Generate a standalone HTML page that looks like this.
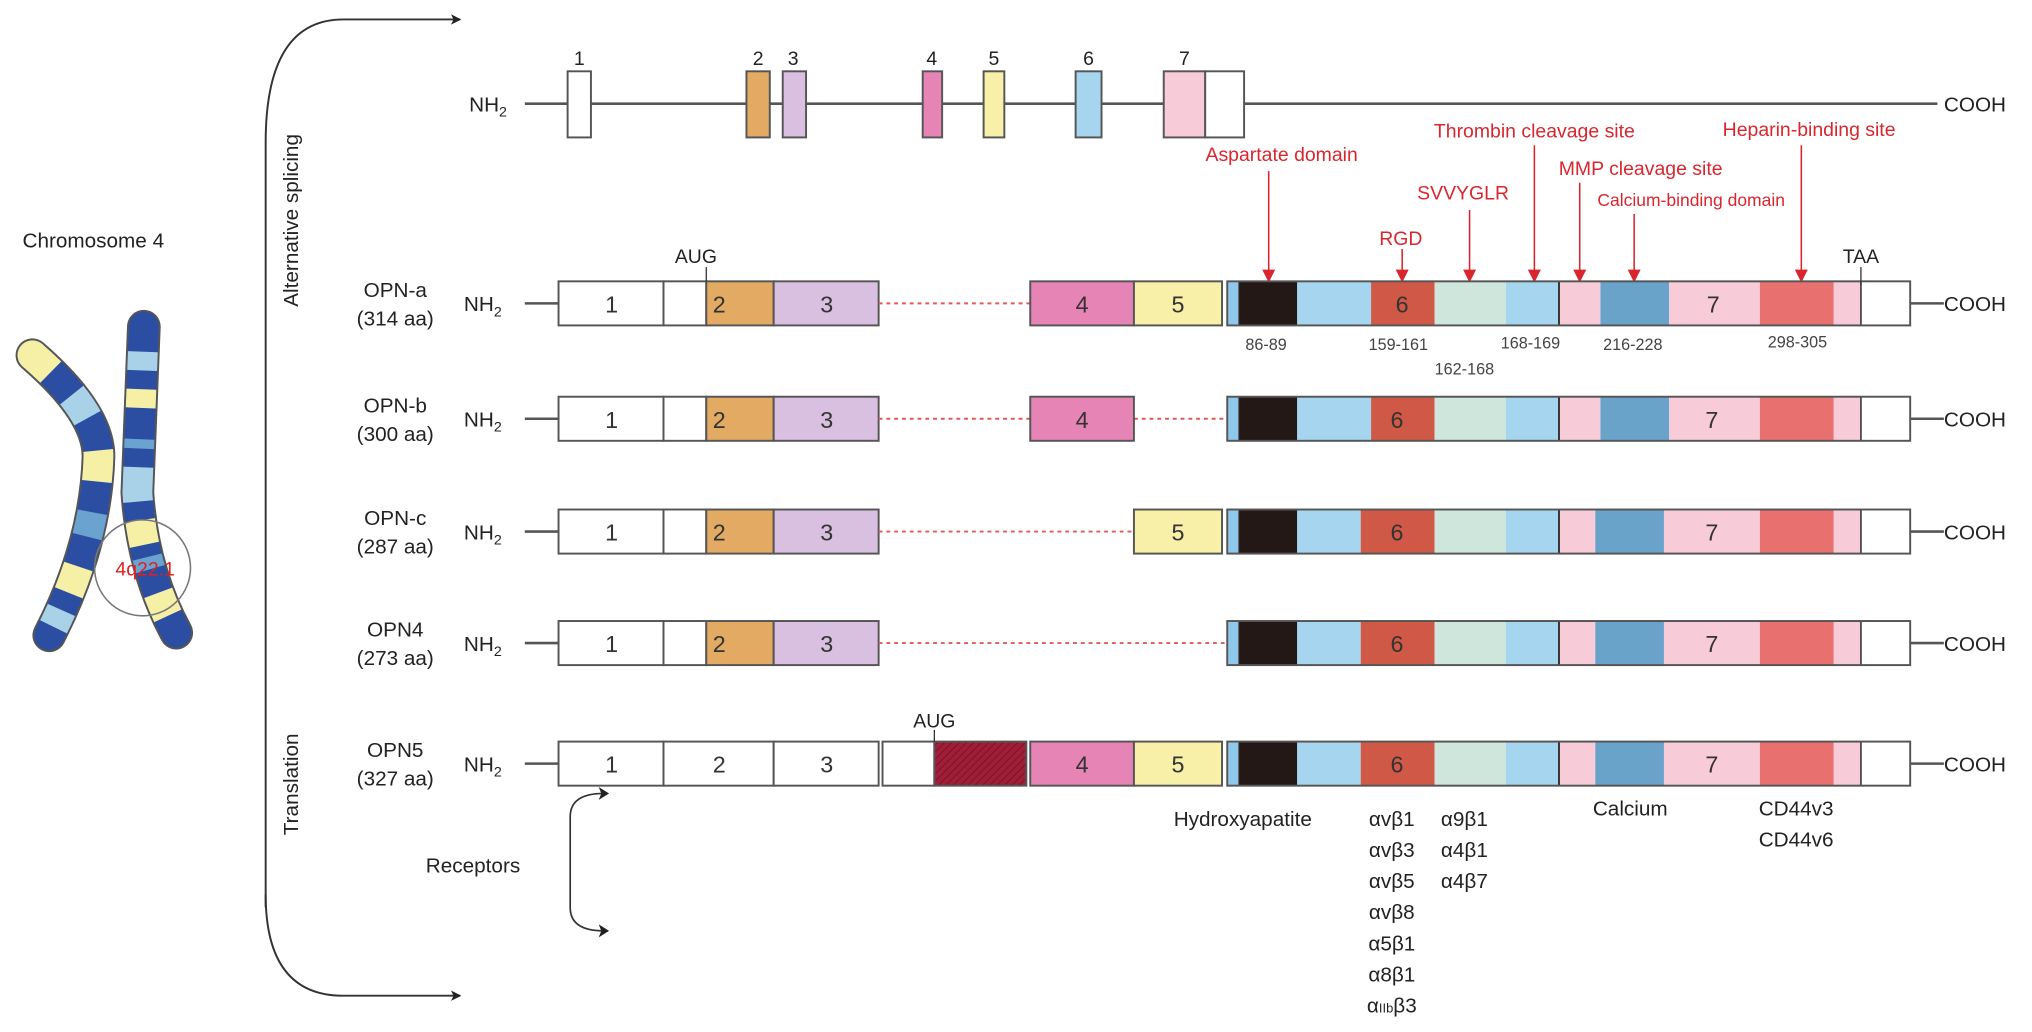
<!DOCTYPE html>
<html><head><meta charset="utf-8"><style>
html,body{margin:0;padding:0;background:#fff;}
svg{display:block;}
text{font-family:"Liberation Sans",sans-serif;}
</style></head><body>
<svg width="2032" height="1032" viewBox="0 0 1568 796" preserveAspectRatio="none" xmlns="http://www.w3.org/2000/svg">
<defs>
<pattern id="hatch" width="4" height="4" patternUnits="userSpaceOnUse" patternTransform="rotate(45)">
<rect width="4" height="4" fill="#a01e38"/><line x1="0" y1="0" x2="0" y2="4" stroke="#7a1228" stroke-width="1.5"/>
</pattern>
<marker id="ah" markerWidth="8" markerHeight="8" refX="7" refY="4" orient="auto" markerUnits="userSpaceOnUse"><path d="M0,0 L8,4 L0,8 L2,4 z" fill="#222"/></marker>
<marker id="rh" markerWidth="10" markerHeight="10" refX="5" refY="9" orient="0" markerUnits="userSpaceOnUse"><path d="M0,0 L10,0 L5,10 z" fill="#d9262e"/></marker>
<g id="mainA">
<rect x="947" y="0" width="9" height="34" fill="#8fc8ea"/>
<rect x="956" y="0" width="45" height="34" fill="#231815"/>
<rect x="1001" y="0" width="57" height="34" fill="#a6d6ef"/>
<rect x="1058" y="0" width="49" height="34" fill="#cf5847"/>
<rect x="1107" y="0" width="55" height="34" fill="#cfe6dc"/>
<rect x="1162" y="0" width="41" height="34" fill="#a6d6ef"/>
<rect x="1203" y="0" width="32" height="34" fill="#f7cbd8"/>
<rect x="1235" y="0" width="53" height="34" fill="#6aa3c9"/>
<rect x="1288" y="0" width="70" height="34" fill="#f7cbd8"/>
<rect x="1358" y="0" width="57" height="34" fill="#e8706e"/>
<rect x="1415" y="0" width="21" height="34" fill="#f7cbd8"/>
<rect x="1436" y="0" width="38" height="34" fill="#fff"/>
<line x1="1203" y1="0" x2="1203" y2="34" stroke="#333" stroke-width="1.5"/>
<line x1="1436" y1="0" x2="1436" y2="34" stroke="#333" stroke-width="1.2"/>
<line x1="956" y1="0" x2="956" y2="34" stroke="#333" stroke-width="0.8"/>
<rect x="947" y="0" width="527" height="34" fill="none" stroke="#555" stroke-width="1.5"/>
<line x1="1474" y1="17" x2="1500" y2="17" stroke="#555" stroke-width="2"/>
</g>
<g id="mainB">
<rect x="947" y="0" width="9" height="34" fill="#8fc8ea"/>
<rect x="956" y="0" width="45" height="34" fill="#231815"/>
<rect x="1001" y="0" width="49" height="34" fill="#a6d6ef"/>
<rect x="1050" y="0" width="57" height="34" fill="#cf5847"/>
<rect x="1107" y="0" width="55" height="34" fill="#cfe6dc"/>
<rect x="1162" y="0" width="41" height="34" fill="#a6d6ef"/>
<rect x="1203" y="0" width="28" height="34" fill="#f7cbd8"/>
<rect x="1231" y="0" width="53" height="34" fill="#6aa3c9"/>
<rect x="1284" y="0" width="74" height="34" fill="#f7cbd8"/>
<rect x="1358" y="0" width="57" height="34" fill="#e8706e"/>
<rect x="1415" y="0" width="21" height="34" fill="#f7cbd8"/>
<rect x="1436" y="0" width="38" height="34" fill="#fff"/>
<line x1="1203" y1="0" x2="1203" y2="34" stroke="#333" stroke-width="1.5"/>
<line x1="1436" y1="0" x2="1436" y2="34" stroke="#333" stroke-width="1.2"/>
<line x1="956" y1="0" x2="956" y2="34" stroke="#333" stroke-width="0.8"/>
<rect x="947" y="0" width="527" height="34" fill="none" stroke="#555" stroke-width="1.5"/>
<line x1="1474" y1="17" x2="1500" y2="17" stroke="#555" stroke-width="2"/>
</g>
<g id="left">
<line x1="405" y1="17" x2="431" y2="17" stroke="#555" stroke-width="2"/>
<rect x="431" y="0" width="81" height="34" fill="#fff" stroke="#555" stroke-width="1.5"/>
<rect x="512" y="0" width="33" height="34" fill="#fff" stroke="#555" stroke-width="1.5"/>
<rect x="545" y="0" width="52" height="34" fill="#e2aa62" stroke="#555" stroke-width="1.5"/>
<rect x="597" y="0" width="81" height="34" fill="#d9bfe0" stroke="#555" stroke-width="1.5"/>
</g>
</defs>

<!-- big bracket arrows -->
<path d="M205,700 L205,110 Q205,15 265,15 L355,15" fill="none" stroke="#333" stroke-width="1.5" marker-end="url(#ah)"/>
<path d="M205,690 Q205,768 265,768 L355,768" fill="none" stroke="#333" stroke-width="1.5" marker-end="url(#ah)"/>
<text transform="translate(230,170) rotate(-90)" text-anchor="middle" font-size="16" fill="#222">Alternative splicing</text>
<text transform="translate(230,605) rotate(-90)" text-anchor="middle" font-size="16" fill="#222">Translation</text>

<!-- chromosome -->
<text x="72" y="191" text-anchor="middle" font-size="16" fill="#222">Chromosome 4</text>
<g fill="none">
<path d="M25,274 Q76,318 76,352 Q74,420 38,490" stroke="#555" stroke-width="26" stroke-linecap="round"/>
<path d="M111,252 L106,380 Q110,440 136,488" stroke="#555" stroke-width="26" stroke-linecap="round"/>
<path d="M25,274 Q76,318 76,352 Q74,420 38,490" stroke="#2b4ea3" stroke-width="23" stroke-linecap="round"/>
<g stroke-width="23" stroke-linecap="butt">
<path d="M25,274 Q76,318 76,352 Q74,420 38,490" pathLength="100" stroke="#f6efa6" stroke-dasharray="0 0 8 200" />
<path d="M25,274 Q76,318 76,352 Q74,420 38,490" pathLength="100" stroke="#f6efa6" stroke-dasharray="0 0.1 0.1 200" stroke-linecap="round"/>
<path d="M25,274 Q76,318 76,352 Q74,420 38,490" pathLength="100" stroke="#a9d2e8" stroke-dasharray="9 200" stroke-dashoffset="-18"/>
<path d="M25,274 Q76,318 76,352 Q74,420 38,490" pathLength="100" stroke="#f6efa6" stroke-dasharray="10 200" stroke-dashoffset="-38"/>
<path d="M25,274 Q76,318 76,352 Q74,420 38,490" pathLength="100" stroke="#6aa3cf" stroke-dasharray="8 200" stroke-dashoffset="-58"/>
<path d="M25,274 Q76,318 76,352 Q74,420 38,490" pathLength="100" stroke="#f6efa6" stroke-dasharray="9 200" stroke-dashoffset="-76"/>
<path d="M25,274 Q76,318 76,352 Q74,420 38,490" pathLength="100" stroke="#a9d2e8" stroke-dasharray="6 200" stroke-dashoffset="-91"/>
</g>
<path d="M111,252 L106,380 Q110,440 136,488" stroke="#2b4ea3" stroke-width="23" stroke-linecap="round"/>
<g stroke-width="23" stroke-linecap="butt">
<path d="M111,252 L106,380 Q110,440 136,488" pathLength="100" stroke="#a9d2e8" stroke-dasharray="6 200" stroke-dashoffset="-8"/>
<path d="M111,252 L106,380 Q110,440 136,488" pathLength="100" stroke="#f6efa6" stroke-dasharray="6 200" stroke-dashoffset="-20"/>
<path d="M111,252 L106,380 Q110,440 136,488" pathLength="100" stroke="#6aa3cf" stroke-dasharray="3 200" stroke-dashoffset="-36"/>
<path d="M111,252 L106,380 Q110,440 136,488" pathLength="100" stroke="#a9d2e8" stroke-dasharray="11 200" stroke-dashoffset="-45"/>
<path d="M111,252 L106,380 Q110,440 136,488" pathLength="100" stroke="#f6efa6" stroke-dasharray="8 200" stroke-dashoffset="-62"/>
<path d="M111,252 L106,380 Q110,440 136,488" pathLength="100" stroke="#6aa3cf" stroke-dasharray="4 200" stroke-dashoffset="-74"/>
<path d="M111,252 L106,380 Q110,440 136,488" pathLength="100" stroke="#f6efa6" stroke-dasharray="8 200" stroke-dashoffset="-86"/>
</g>
<circle cx="110" cy="438" r="37" stroke="#777" stroke-width="1.2"/>
</g>
<text x="112" y="444" text-anchor="middle" font-size="15" fill="#e02020">4q22.1</text>

<!-- top gene -->
<line x1="405" y1="80" x2="1495" y2="80" stroke="#555" stroke-width="2"/>
<text x="362" y="86" font-size="16" fill="#222">NH<tspan font-size="11" dy="4">2</tspan></text>
<text x="1500" y="86" font-size="16" fill="#222">COOH</text>
<g stroke="#555" stroke-width="1.5">
<rect x="438" y="55" width="18" height="51" fill="#fff"/>
<rect x="576" y="55" width="18" height="51" fill="#e2aa62"/>
<rect x="604" y="55" width="18" height="51" fill="#d9bfe0"/>
<rect x="712" y="55" width="15" height="51" fill="#e684b6"/>
<rect x="759" y="55" width="16" height="51" fill="#f8f0a8"/>
<rect x="830" y="55" width="20" height="51" fill="#a6d6ef"/>
<rect x="898" y="55" width="32" height="51" fill="#f7cbd8"/>
<rect x="930" y="55" width="30" height="51" fill="#fff"/>
</g>
<g font-size="15" fill="#222" text-anchor="middle">
<text x="447" y="50">1</text><text x="585" y="50">2</text><text x="612" y="50">3</text>
<text x="719" y="50">4</text><text x="767" y="50">5</text><text x="840" y="50">6</text><text x="914" y="50">7</text>
</g>

<!-- red annotations -->
<g stroke="#d9262e" stroke-width="1.2" marker-end="url(#rh)">
<line x1="979" y1="132" x2="979" y2="217"/>
<line x1="1082" y1="192" x2="1082" y2="217"/>
<line x1="1134" y1="162" x2="1134" y2="217"/>
<line x1="1184" y1="112" x2="1184" y2="217"/>
<line x1="1219" y1="141" x2="1219" y2="217"/>
<line x1="1261" y1="165" x2="1261" y2="217"/>
<line x1="1390" y1="112" x2="1390" y2="217"/>
</g>
<g fill="#d9262e" text-anchor="middle" font-size="15">
<text x="989" y="124">Aspartate domain</text>
<text x="1081" y="189">RGD</text>
<text x="1129" y="154">SVVYGLR</text>
<text x="1184" y="106">Thrombin cleavage site</text>
<text x="1266" y="135">MMP cleavage site</text>
<text x="1305" y="159" font-size="13.5">Calcium-binding domain</text>
<text x="1396" y="105">Heparin-binding site</text>
</g>

<!-- rows -->
<g font-size="16" fill="#222">
<text x="305" y="229" text-anchor="middle">OPN-a</text><text x="305" y="251" text-anchor="middle">(314 aa)</text>
<text x="305" y="318" text-anchor="middle">OPN-b</text><text x="305" y="340" text-anchor="middle">(300 aa)</text>
<text x="305" y="405" text-anchor="middle">OPN-c</text><text x="305" y="427" text-anchor="middle">(287 aa)</text>
<text x="305" y="491" text-anchor="middle">OPN4</text><text x="305" y="513" text-anchor="middle">(273 aa)</text>
<text x="305" y="584" text-anchor="middle">OPN5</text><text x="305" y="606" text-anchor="middle">(327 aa)</text>
</g>
<g font-size="16" fill="#222">
<text x="358" y="240">NH<tspan font-size="11" dy="4">2</tspan></text>
<text x="358" y="329">NH<tspan font-size="11" dy="4">2</tspan></text>
<text x="358" y="416">NH<tspan font-size="11" dy="4">2</tspan></text>
<text x="358" y="502">NH<tspan font-size="11" dy="4">2</tspan></text>
<text x="358" y="595">NH<tspan font-size="11" dy="4">2</tspan></text>
<text x="1500" y="240">COOH</text><text x="1500" y="329">COOH</text><text x="1500" y="416">COOH</text>
<text x="1500" y="502">COOH</text><text x="1500" y="595">COOH</text>
</g>

<!-- OPN-a -->
<use href="#left" transform="translate(0,217)"/>
<use href="#mainA" transform="translate(0,217)"/>
<line x1="678" y1="234" x2="795" y2="234" stroke="#e05a5a" stroke-width="1.5" stroke-dasharray="3 3"/>
<rect x="795" y="217" width="80" height="34" fill="#e684b6" stroke="#555" stroke-width="1.5"/>
<rect x="875" y="217" width="68" height="34" fill="#f8f0a8" stroke="#555" stroke-width="1.5"/>
<!-- OPN-b -->
<use href="#left" transform="translate(0,306)"/>
<use href="#mainA" transform="translate(0,306)"/>
<line x1="678" y1="323" x2="795" y2="323" stroke="#e05a5a" stroke-width="1.5" stroke-dasharray="3 3"/>
<line x1="875" y1="323" x2="947" y2="323" stroke="#e05a5a" stroke-width="1.5" stroke-dasharray="3 3"/>
<rect x="795" y="306" width="80" height="34" fill="#e684b6" stroke="#555" stroke-width="1.5"/>
<!-- OPN-c -->
<use href="#left" transform="translate(0,393)"/>
<use href="#mainB" transform="translate(0,393)"/>
<line x1="678" y1="410" x2="875" y2="410" stroke="#e05a5a" stroke-width="1.5" stroke-dasharray="3 3"/>
<rect x="875" y="393" width="68" height="34" fill="#f8f0a8" stroke="#555" stroke-width="1.5"/>
<!-- OPN4 -->
<use href="#left" transform="translate(0,479)"/>
<use href="#mainB" transform="translate(0,479)"/>
<line x1="678" y1="496" x2="947" y2="496" stroke="#e05a5a" stroke-width="1.5" stroke-dasharray="3 3"/>
<!-- OPN5 -->
<line x1="405" y1="589" x2="431" y2="589" stroke="#555" stroke-width="2"/>
<g stroke="#555" stroke-width="1.5">
<rect x="431" y="572" width="81" height="34" fill="#fff"/>
<rect x="512" y="572" width="85" height="34" fill="#fff"/>
<rect x="597" y="572" width="81" height="34" fill="#fff"/>
<rect x="681" y="572" width="40" height="34" fill="#fff"/>
<rect x="721" y="572" width="71" height="34" fill="url(#hatch)"/>
<rect x="795" y="572" width="80" height="34" fill="#e684b6"/>
<rect x="875" y="572" width="68" height="34" fill="#f8f0a8"/>
</g>
<use href="#mainB" transform="translate(0,572)"/>

<!-- numbers in boxes -->
<g font-size="18" fill="#333" text-anchor="middle">
<text x="472" y="241">1</text><text x="555" y="241">2</text><text x="638" y="241">3</text><text x="835" y="241">4</text><text x="909" y="241">5</text><text x="1082" y="241">6</text><text x="1322" y="241">7</text>
<text x="472" y="330">1</text><text x="555" y="330">2</text><text x="638" y="330">3</text><text x="835" y="330">4</text><text x="1078" y="330">6</text><text x="1321" y="330">7</text>
<text x="472" y="417">1</text><text x="555" y="417">2</text><text x="638" y="417">3</text><text x="909" y="417">5</text><text x="1078" y="417">6</text><text x="1321" y="417">7</text>
<text x="472" y="503">1</text><text x="555" y="503">2</text><text x="638" y="503">3</text><text x="1078" y="503">6</text><text x="1321" y="503">7</text>
<text x="472" y="596">1</text><text x="555" y="596">2</text><text x="638" y="596">3</text><text x="835" y="596">4</text><text x="909" y="596">5</text><text x="1078" y="596">6</text><text x="1321" y="596">7</text>
</g>

<!-- AUG / TAA -->
<text x="537" y="203" text-anchor="middle" font-size="15" fill="#222">AUG</text>
<line x1="545" y1="206" x2="545" y2="217" stroke="#333" stroke-width="1"/>
<text x="1436" y="203" text-anchor="middle" font-size="15" fill="#222">TAA</text>
<line x1="1436" y1="206" x2="1436" y2="220" stroke="#333" stroke-width="1"/>
<text x="721" y="561" text-anchor="middle" font-size="15" fill="#222">AUG</text>
<line x1="721" y1="563" x2="721" y2="572" stroke="#333" stroke-width="1"/>

<!-- residue numbers -->
<g font-size="12.5" fill="#444" text-anchor="middle">
<text x="977" y="270">86-89</text><text x="1079" y="270">159-161</text><text x="1130" y="289">162-168</text>
<text x="1181" y="269">168-169</text><text x="1260" y="270">216-228</text><text x="1387" y="268">298-305</text>
</g>

<!-- receptors -->
<path d="M466,612 Q440,612 440,630 L440,700 Q440,718 466,718" fill="none" stroke="#333" stroke-width="1.3"/>
<path d="M470,612 L462,607 L464,612 L462,617 z" fill="#222"/>
<path d="M470,718 L462,713 L464,718 L462,723 z" fill="#222"/>
<text x="365" y="673" text-anchor="middle" font-size="16" fill="#222">Receptors</text>

<g font-size="16" fill="#222" text-anchor="middle">
<text x="959" y="637">Hydroxyapatite</text>
<text x="1258" y="629">Calcium</text>
<text x="1386" y="629">CD44v3</text>
<text x="1386" y="653">CD44v6</text>
</g>
<g font-size="16" fill="#222" font-family="Liberation Serif, serif" text-anchor="middle">
<text x="1074" y="637">αvβ1</text><text x="1074" y="661">αvβ3</text><text x="1074" y="685">αvβ5</text>
<text x="1074" y="709">αvβ8</text><text x="1074" y="733">α5β1</text><text x="1074" y="757">α8β1</text>
<text x="1074" y="781">α<tspan font-size="10">IIb</tspan>β3</text>
<text x="1130" y="637">α9β1</text><text x="1130" y="661">α4β1</text><text x="1130" y="685">α4β7</text>
</g>
</svg>
</body></html>
